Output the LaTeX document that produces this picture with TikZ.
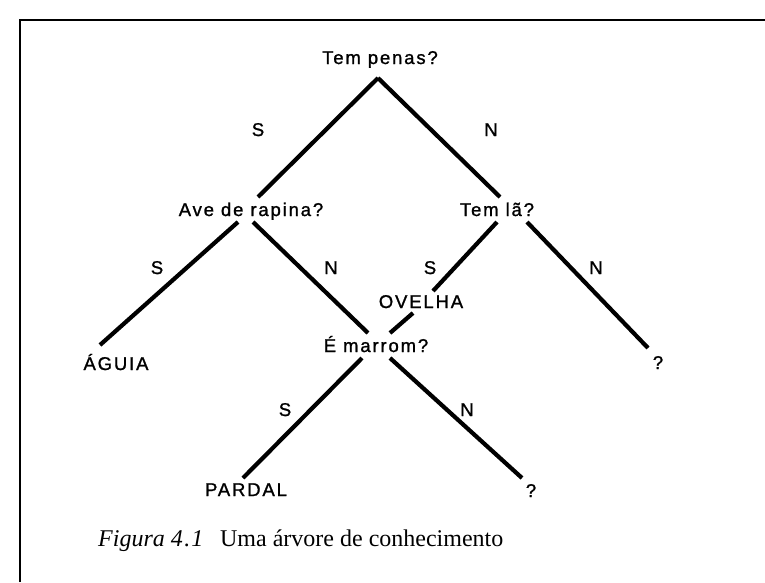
\documentclass[tikz,border=0pt]{standalone}
\usepackage{fontspec}
\setmainfont{Liberation Serif}
\newfontfamily\treefont[LetterSpace=10,FakeBold=1.2]{Liberation Sans}
\begin{document}
\begin{tikzpicture}[x=1pt,y=-1pt,
  lbl/.style={font=\treefont\fontsize{18.5}{21}\selectfont, inner sep=0pt, anchor=base},
  br/.style={line width=4.2pt},
  frame/.style={line width=2pt}]
\useasboundingbox (0,0) rectangle (765,582);
\fill[white] (0,0) rectangle (765,582);
% frame
\coordinate (fl) at (20,582);
\coordinate (fc) at (20,20);
\coordinate (fr) at (765,20);
\draw[frame] (fl) -- (fc) -- (fr);
% nodes
\node[lbl] (root) at (380,64) {Tem penas?};
\node[lbl] (ave) at (251,216) {Ave de rapina?};
\node[lbl] (la) at (497,216) {Tem lã?};
\node[lbl] (aguia) at (116,370) {ÁGUIA};
\node[lbl] (ovelha) at (421,308) {OVELHA};
\node[lbl] (marrom) at (376,352) {É marrom?};
\node[lbl] (q1) at (658,369) {?};
\node[lbl] (pardal) at (246,496) {PARDAL};
\node[lbl] (q2) at (531,497) {?};
% edge labels
\node[lbl] (s1) at (258,136) {S};
\node[lbl] (n1) at (491,136) {N};
\node[lbl] (s2) at (157,274) {S};
\node[lbl] (n2) at (331,274) {N};
\node[lbl] (s3) at (430,274) {S};
\node[lbl] (n3) at (596,274) {N};
\node[lbl] (s4) at (285,416) {S};
\node[lbl] (n4) at (467,416) {N};
% connector end points
\coordinate (apex) at (378,78);
\coordinate (aveT) at (258,197);
\coordinate (laT) at (500,197);
\coordinate (aveL) at (238,222);
\coordinate (aveR) at (253,222);
\coordinate (aguiaT) at (100,345);
\coordinate (marT) at (368,333);
\coordinate (laL) at (497,222);
\coordinate (laR) at (527,222);
\coordinate (ovT) at (433,291);
\coordinate (ovB) at (413,313);
\coordinate (marT2) at (390,333);
\coordinate (q1T) at (648,348);
\coordinate (marL) at (362,358);
\coordinate (marR) at (390,358);
\coordinate (parT) at (243,478);
\coordinate (q2T) at (522,478);
% connectors
\draw[br] (apex) -- (aveT);
\draw[br] (apex) -- (laT);
\draw[br] (aveL) -- (aguiaT);
\draw[br] (aveR) -- (marT);
\draw[br] (laL) -- (ovT);
\draw[br] (ovB) -- (marT2);
\draw[br] (laR) -- (q1T);
\draw[br] (marL) -- (parT);
\draw[br] (marR) -- (q2T);
% caption
\node[anchor=base west, inner sep=0pt, font=\fontsize{24}{28}\selectfont] (cap) at (98,546)
  {\textit{Figura 4\kern1.5pt.\kern1pt1}\hspace{0.7em}Uma árvore de conhecimento};
\end{tikzpicture}
\end{document}
